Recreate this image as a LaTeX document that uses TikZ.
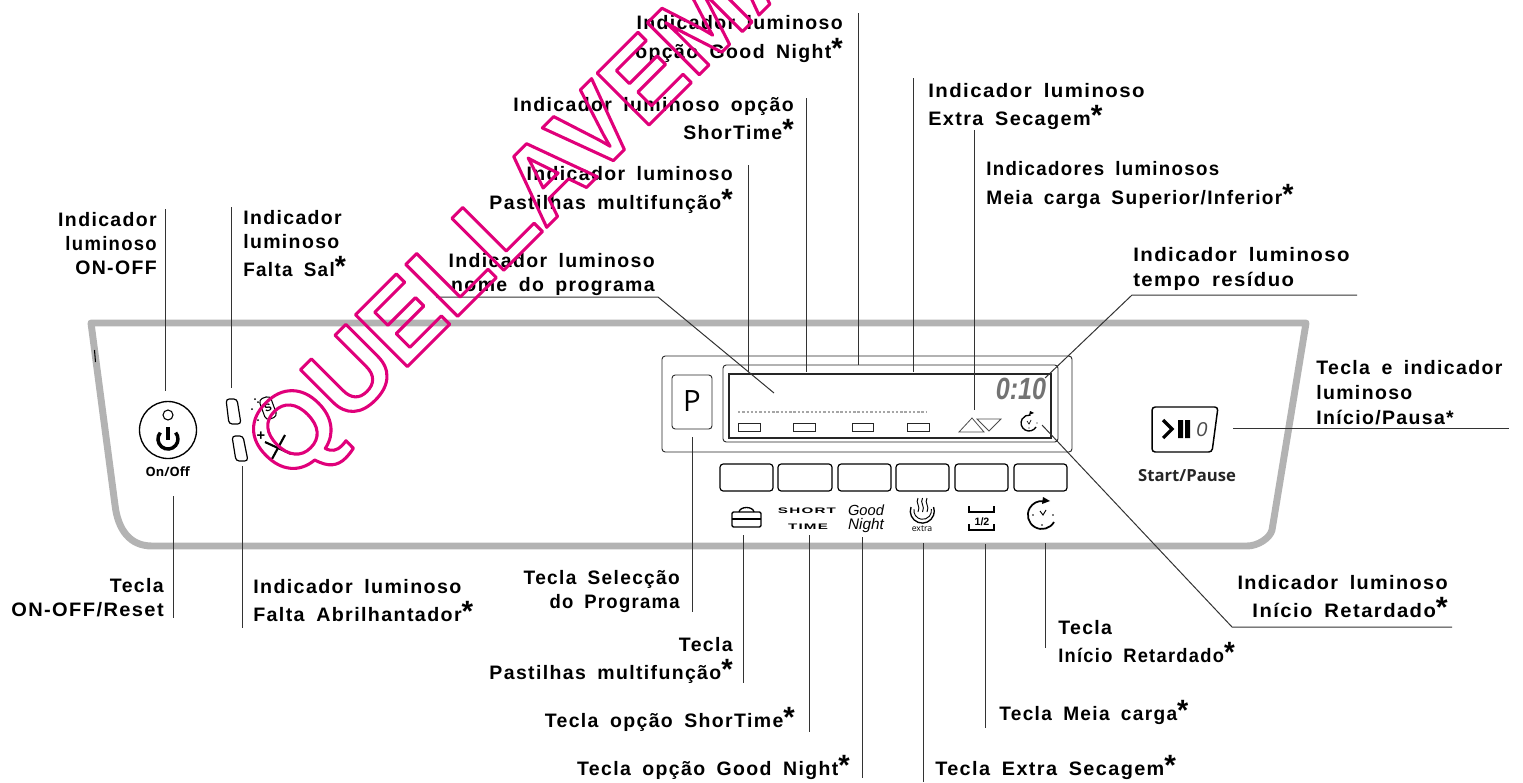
\documentclass[tikz,border=0pt]{standalone}
\usepackage{fontspec}
\setmainfont{Liberation Sans}
\newfontfamily\lblfont{Liberation Sans}[LetterSpace=7,WordSpace=1.7]
\newfontfamily\wideicon{Liberation Sans}[LetterSpace=8]
\newfontfamily\keyfont{Open Sans}
\usetikzlibrary{calc}
\definecolor{wmc}{HTML}{E0007A}
\definecolor{panelc}{HTML}{B3B3B3}
\definecolor{leadc}{HTML}{333333}
\tikzset{
 lr/.style={font=\lblfont\fontsize{14.6}{18}\selectfont\bfseries,inner sep=0pt,anchor=base east},
 ll/.style={font=\lblfont\fontsize{14.6}{18}\selectfont\bfseries,inner sep=0pt,anchor=base west},
 lead/.style={draw=leadc,line width=.75pt},
 panelline/.style={draw=panelc,line width=5.2pt,line join=round},
 key/.style={draw=black,line width=.9pt,rounded corners=2.4pt},
 thin box/.style={draw=black!85,line width=.7pt,rounded corners=2.4pt},
 wideword/.style={font=\wideicon\fontsize{6}{6}\selectfont\bfseries,inner sep=0pt,xscale=1.9},
}
\newcommand{\st}{{\fontsize{22}{22}\selectfont *}}
\begin{document}
\begin{tikzpicture}[x=0.75pt,y=-0.75pt]
\useasboundingbox (0,0) rectangle (1523,782);
% panel
\draw[panelline] (91,323) -- (1306,323) -- (1272,530) .. controls (1270,538) and (1258,546) .. (1247,546) -- (152,546) .. controls (130,546) and (118,530) .. (115,505) -- cycle;
\draw[black,line width=.8pt] (94.5,350) -- (95.5,362);
% on/off
\draw[black,line width=1pt] (168,430) circle[radius=28.5];
\draw[black,line width=.8pt] (168,415) circle[radius=5];
\draw[black,line width=2.6pt] (160.3,432.6) arc[start angle=220,end angle=-40,radius=10];
\draw[black,line width=2.4pt] (168,427) -- (168,440);
\node[font=\keyfont\fontsize{9.6}{10}\selectfont,inner sep=0pt,text=black] (onoff) at (168,472) {\textbf{On/Off}};
% leds
\draw[key] (226,399) -- (237,399) -- (241,424) -- (229,424) -- cycle;
\draw[key] (232,436) -- (243,436) -- (248,461) -- (236,461) -- cycle;
% salt icon
\draw[black,line width=.8pt,rounded corners=3pt,rotate around={20:(268,408)}] (262,397) rectangle (274,419);
\node[font=\fontsize{8}{8}\selectfont\bfseries,inner sep=0pt,rotate=20] (salt) at (268,408) {S};
\foreach \p in {(255,399),(252,409),(258,402),(258,420)} \fill[black] \p circle[radius=1];
\node[font=\fontsize{11}{11}\selectfont\bfseries,inner sep=0pt] (plus) at (261,436) {+};
\draw[black,line width=1.6pt] (265,442) -- (291,454);
\draw[black,line width=1.6pt] (285,435) -- (272,459);
% display
\draw[thin box] (662,356) rectangle (1072,452);
\draw[thin box] (672,375) rectangle (712,429);
\node[font=\keyfont\fontsize{22}{22}\selectfont,inner sep=0pt] (pkey) at (692,401) {P};
\draw[thin box] (723,365) rectangle (1058,442);
\draw[draw=black!85,line width=.8pt] (729,374) rectangle (1051,438);
\draw[draw=black!35,line width=1.8pt,dash pattern=on 1.8pt off 1.4pt] (738,412) -- (927,412);
\foreach \a/\b in {738/760,793/815,852/873,907/929} \draw[black!85,line width=.7pt] (\a,423) rectangle (\b,431);
\draw[black!70,line width=.6pt] (959,432) -- (972,418) -- (984,432) -- cycle;
\draw[black!70,line width=.6pt] (977,419) -- (1001,419) -- (989,431) -- cycle;
\node[font=\fontsize{23}{23}\selectfont\bfseries\itshape,text=black!55,inner sep=0pt,xscale=.82] (clock) at (1021,389) {0:10};
\draw[black,line width=1pt] (1036,427) arc[start angle=30,end angle=280,radius=8];
\fill[black] (1029,415) -- (1034,413) -- (1030,411) -- cycle;
\fill[black] (1037,423) circle[radius=.7] (1029,428) circle[radius=.7];
\draw[black,line width=.5pt] (1027,421) -- (1029,424) -- (1031,420);
% keys
\foreach \a/\b in {720/773,778/832,838/891,896/949,955/1008,1014/1067}
  \draw[key] (\a,464) rectangle (\b,491);
% icons
\draw[black,line width=1pt,rounded corners=1pt] (732,512) rectangle (761,527);
\draw[black,line width=1pt] (732,519) -- (761,519);
\draw[black,line width=1pt] (739,512) .. controls (740,506) and (753,506) .. (754,512);
\node[wideword] (short) at (807,511) {SHORT};
\node[wideword] (time) at (808,527) {TIME};
\node[font=\fontsize{11}{11}\selectfont\itshape,inner sep=0pt] (good) at (866,510) {Good};
\node[font=\fontsize{11.5}{11}\selectfont\itshape,inner sep=0pt] (night) at (866,526) {Night};
\draw[black,line width=1pt] (911,507) arc[start angle=200,end angle=-20,radius=12];
\draw[black,line width=.7pt] (914,509) arc[start angle=190,end angle=-10,radius=8.8];
\foreach \d in {918,922.5,927} \draw[black,line width=.7pt] (\d,498) .. controls (\d-3,503) and (\d+3,506) .. (\d,512);
\node[font=\keyfont\fontsize{6.5}{7}\selectfont,inner sep=0pt] (extra) at (922,529) {extra};
\draw[black,line width=1pt] (969,506) -- (969,512) -- (994,512) -- (994,506);
\draw[black,line width=1pt] (969,524) -- (969,530) -- (994,530) -- (994,524);
\node[font=\fontsize{8}{8}\selectfont\bfseries,inner sep=0pt] (half) at (982,522) {1/2};
\draw[black,line width=1.3pt] (1054,522) arc[start angle=30,end angle=278,radius=14];
\fill[black] (1042,504) -- (1050,501) -- (1043,497) -- cycle;
\fill[black] (1053,515) circle[radius=.9] (1042,525) circle[radius=.9] (1033,515) circle[radius=.9];
\draw[black,line width=.7pt] (1040,511) -- (1043,515) -- (1046,510);
% start/pause
\draw[key,line width=1.1pt] (1152,407) -- (1218,407) -- (1212,452) -- (1152,452) -- cycle;
\draw[black,line width=2.4pt] (1163,420) -- (1172,429) -- (1163,438);
\fill[black] (1178,420) rectangle (1183,438) (1185,420) rectangle (1190,438);
\node[font=\fontsize{15}{15}\selectfont\itshape,text=black!70,inner sep=0pt] (sp0) at (1202,430) {0};
\node[font=\keyfont\fontsize{12.5}{13}\selectfont,inner sep=0pt,text=black!85] (startlbl) at (1187,476) {\textbf{Start/Pause}};
% labels
\node[lr] (a1) at (157,226) {Indicador};
\node[lr,xscale=.95] (a2) at (157,250) {luminoso};
\node[lr] (a3) at (157,274) {ON-OFF};
\node[ll] (b1) at (243,224) {Indicador};
\node[ll] (b2) at (243,248) {luminoso};
\node[ll,xscale=.97] (b3) at (243,276) {Falta Sal\st};
\node[lr] (c1) at (164,592) {Tecla};
\node[lr,xscale=1.03] (c2) at (164,616) {ON-OFF/Reset};
\node[ll,xscale=1.01] (d1) at (253,593) {Indicador luminoso};
\node[ll,xscale=1.01] (d2) at (253,621) {Falta Abrilhantador\st};
\node[lr,xscale=.98] (e1) at (680,584) {Tecla Selecção};
\node[lr,xscale=.95] (e2) at (680,608) {do Programa};
\node[lr] (f1) at (733,651) {Tecla};
\node[lr] (f2) at (733,679) {Pastilhas multifunção\st};
\node[lr] (g) at (795,727) {Tecla opção ShorTime\st};
\node[lr] (h) at (850,775) {Tecla opção Good Night\st};
\node[ll,xscale=1.02] (i) at (935,775) {Tecla Extra Secagem\st};
\node[ll,xscale=.98] (j) at (999,720) {Tecla Meia carga\st};
\node[ll] (k1) at (1058,634) {Tecla};
\node[ll,xscale=.94] (k2) at (1058,662) {Início Retardado\st};
\node[lr,xscale=1.02] (l1) at (1448,589) {Indicador luminoso};
\node[lr,xscale=1.04] (l2) at (1448,617) {Início Retardado\st};
\node[ll] (m1) at (1316,374) {Tecla e indicador};
\node[ll] (m2) at (1316,399) {luminoso};
\node[ll] (m3) at (1316,424) {Início/Pausa*};
\node[ll,xscale=1.05] (n1) at (1133,261) {Indicador luminoso};
\node[ll,xscale=1.045] (n2) at (1133,286) {tempo resíduo};
\node[ll,xscale=.96] (o1) at (986,175) {Indicadores luminosos};
\node[ll,xscale=.98] (o2) at (986,204) {Meia carga Superior/Inferior\st};
\node[ll,xscale=1.05] (p1) at (928,97) {Indicador luminoso};
\node[ll,xscale=1.02] (p2) at (928,125) {Extra Secagem\st};
\node[lr] (q1) at (655,267) {Indicador luminoso};
\node[lr] (q2) at (655,291) {nome do programa};
\node[lr] (r1) at (733,180) {Indicador luminoso};
\node[lr] (r2) at (733,209) {Pastilhas multifunção\st};
\node[lr] (s1) at (794,111) {Indicador luminoso opção};
\node[lr] (s2) at (794,139) {ShorTime\st};
\node[lr] (t1) at (843,29) {Indicador luminoso};
\node[lr] (t2) at (843,58) {opção Good Night\st};
% leads
\foreach \n/\x/\a/\b in {la/165/209/391,lb/231/207/388,lc/173/496/618,ld/242/466/628,le/692/437/612,lf/743/535/683,lg/809/535/732,lh/862/537/778,li/923/543/782,lj/985/544/728,lk/1045/543/648,lr1/748/165/372,ls/806/98/372,lt/858/13/365,lp/913/78/372,lo/974/130/410}{
  \coordinate (\n1) at (\x,\a); \coordinate (\n2) at (\x,\b);
  \draw[lead] (\n1) -- (\n2);
}
\coordinate (pg0) at (436,297); \coordinate (pg1) at (658,297); \coordinate (pg2) at (774,393);
\draw[lead] (pg0) -- (pg1) -- (pg2);
\coordinate (tr0) at (1357,295); \coordinate (tr1) at (1132,295); \coordinate (tr2) at (1045,378);
\draw[lead] (tr0) -- (tr1) -- (tr2);
\coordinate (ir0) at (1452,627); \coordinate (ir1) at (1232,627); \coordinate (ir2) at (1042,425);
\draw[lead] (ir0) -- (ir1) -- (ir2);
\coordinate (sp1) at (1233,428); \coordinate (sp2) at (1509,428);
\draw[lead] (sp1) -- (sp2);
% watermark
\node[inner sep=0pt,anchor=base west,rotate=45,text=wmc,font=\fontsize{80}{80}\selectfont\bfseries] (wm) at (289,485)
 {\special{pdf:code q 1 Tr 2.3 w 0.878 0 0.478 RG 1 j}QUELLAVEMAIS\special{pdf:code Q}};
\end{tikzpicture}
\end{document}
